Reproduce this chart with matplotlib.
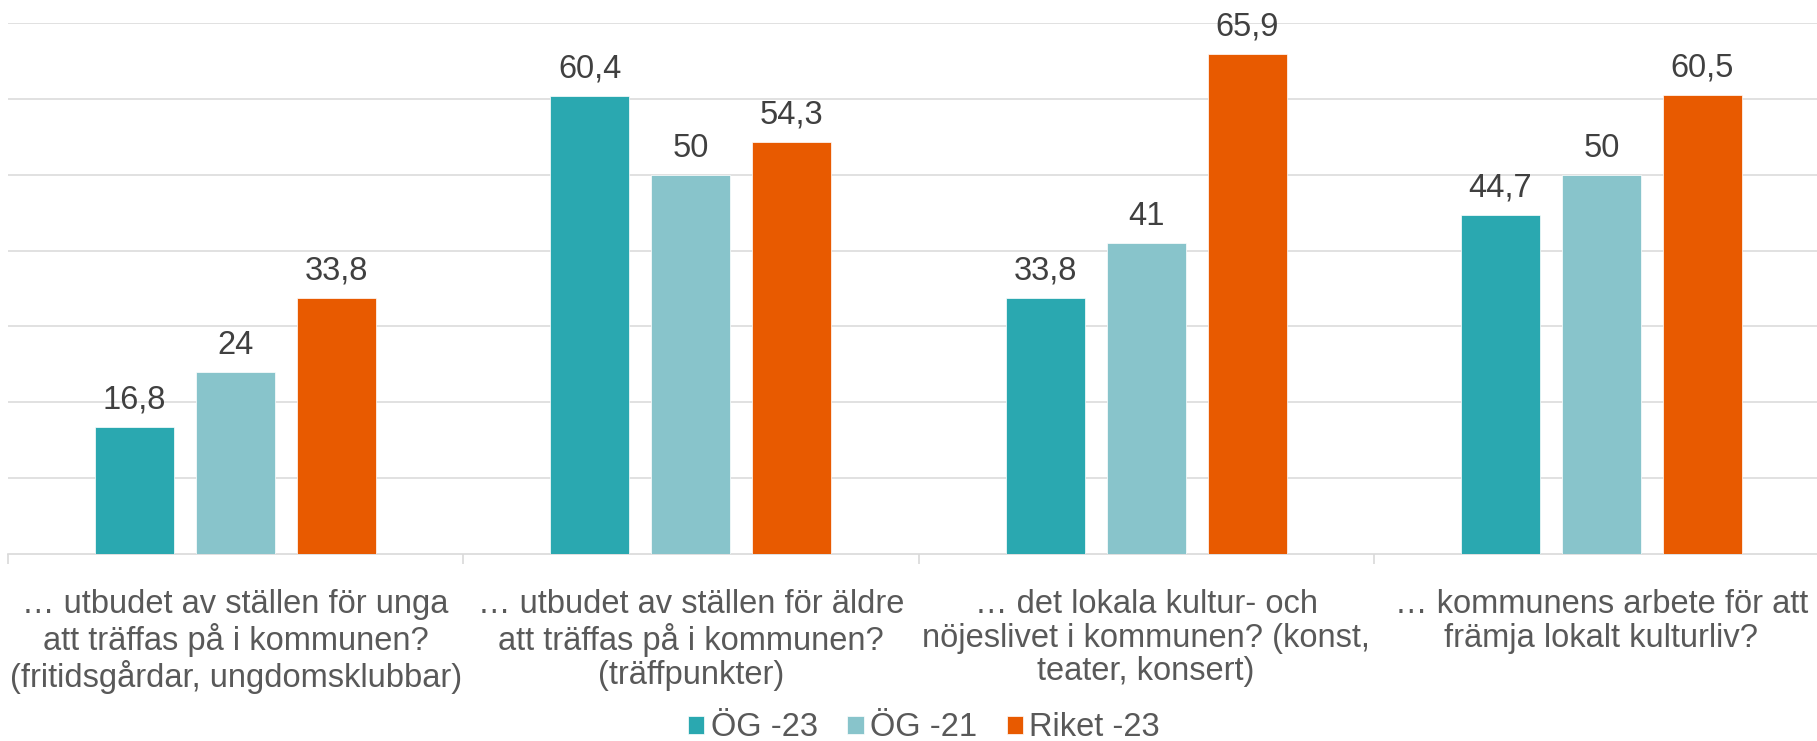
#!/usr/bin/env python3

"""
Grouped bar chart: ÖG -23 / ÖG -21 / Riket -23
"""

import numpy as np
import matplotlib
matplotlib.use('Agg')
import matplotlib.pyplot as plt

categories = [
    "… utbudet av ställen för unga\natt träffas på i kommunen?\n(fritidsgårdar, ungdomsklubbar)",
    "… utbudet av ställen för äldre\natt träffas på i kommunen?\n(träffpunkter)",
    "… det lokala kultur- och\nnöjeslivet i kommunen? (konst,\nteater, konsert)",
    "… kommunens arbete för att\nfrämja lokalt kulturliv?",
]
series_names = ["ÖG -23", "ÖG -21", "Riket -23"]
og23 = [16.8, 60.4, 33.8, 44.7]
og21 = [24, 50, 41, 50]
riket23 = [33.8, 54.3, 65.9, 60.5]

colors = ["#2AA8B0", "#88C4CB", "#E85A00"]

plt.rcParams['font.family'] = ['Liberation Sans', 'DejaVu Sans']

fig = plt.figure(figsize=(18.17, 7.41), dpi=100)
ax = fig.add_axes([8 / 1817, 187 / 741, 1821 / 1817, 531 / 741])

x = np.arange(len(categories))
width = 0.1735
step = 0.222
for i, (vals, name, col) in enumerate(zip([og23, og21, riket23], series_names, colors)):
    bars = ax.bar(x + (i - 1) * step, vals, width, color=col, label=name,
                  edgecolor='white', linewidth=0.5, zorder=3)
    for b, v in zip(bars, vals):
        ax.annotate(f"{v:g}".replace('.', ','),
                    (b.get_x() + b.get_width() / 2, b.get_height()),
                    xytext=(0, 8), textcoords='offset points',
                    ha='center', va='bottom', fontsize=23.5, color='#404040')

ax.set_xlim(-0.5, len(categories) - 0.5)
ax.set_ylim(0, 70)
ax.set_yticks(np.arange(10, 71, 10))
ax.yaxis.grid(True, color='#D9D9D9', linewidth=1.1, zorder=0)
ax.tick_params(axis='y', left=False, labelleft=False)

ax.set_xticks(x)
ax.set_xticklabels(categories, fontsize=23.5, color='#595959', linespacing=1.12)
ax.set_xticks(np.arange(-0.5, len(categories), 1), minor=True)
ax.tick_params(axis='x', which='major', length=0, pad=25)
ax.tick_params(axis='x', which='minor', length=7, width=1.2, color='#D9D9D9')

for s in ('top', 'right', 'left'):
    ax.spines[s].set_visible(False)
ax.spines['bottom'].set_color('#D9D9D9')
ax.spines['bottom'].set_linewidth(1.2)

leg = fig.legend(loc='center', bbox_to_anchor=(924 / 1817, 13 / 741), ncol=3,
                 frameon=False, fontsize=23.5, handlelength=0.5, handleheight=0.5,
                 handletextpad=0.2, columnspacing=0.9, labelcolor='#595959')

fig.savefig('out.png', dpi=100)
